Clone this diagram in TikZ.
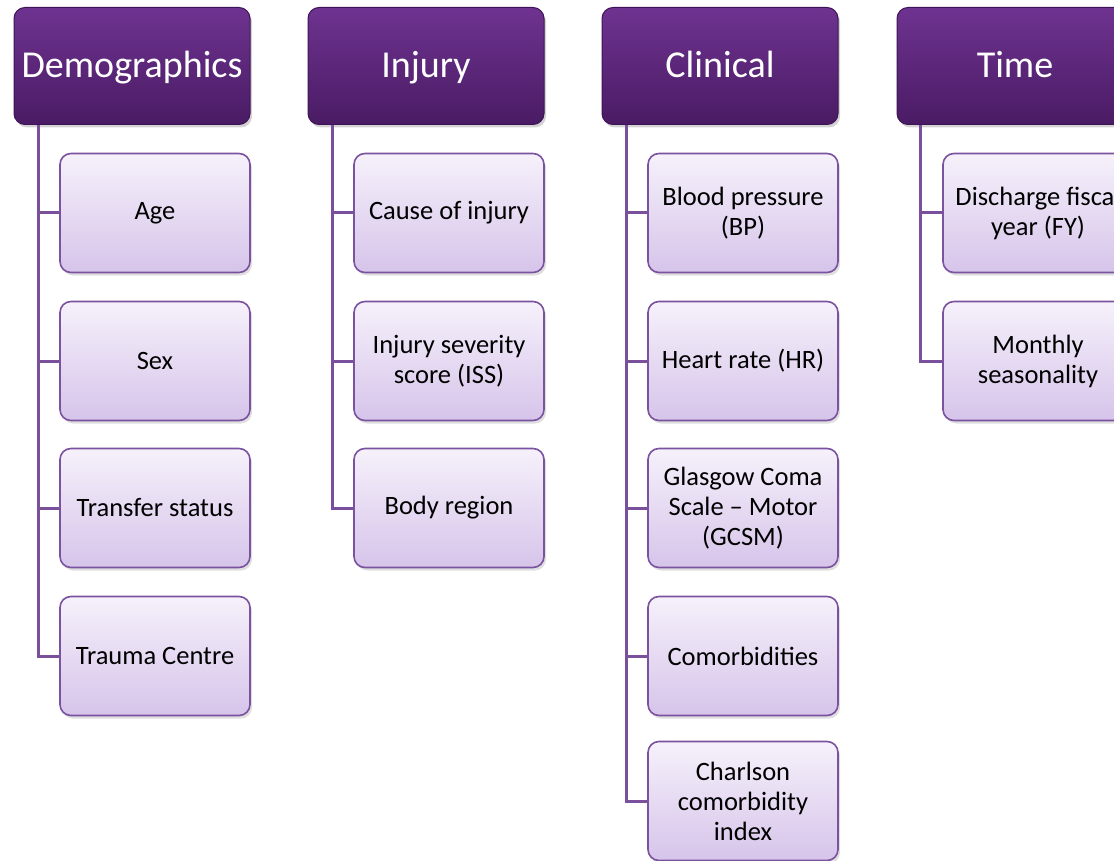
\documentclass[tikz,border=0pt]{standalone}
\usepackage{fontspec}
\setmainfont{Carlito}
\usetikzlibrary{shadows}
\definecolor{hdtop}{HTML}{6E3390}
\definecolor{hdbot}{HTML}{4A1B64}
\definecolor{hdline}{HTML}{3E1456}
\definecolor{chtop}{HTML}{F6F1FB}
\definecolor{chbot}{HTML}{D6C4EA}
\definecolor{chline}{HTML}{7A529F}
\definecolor{conncol}{HTML}{7A4F9C}
\tikzset{
  header/.style={rounded corners=11pt, draw=hdline, line width=1pt,
    top color=hdtop, bottom color=hdbot, minimum width=236pt, minimum height=117pt,
    text=white, font=\fontsize{38}{45}\selectfont, inner sep=0pt,
    text height=30pt, text depth=6pt,
    drop shadow={shadow xshift=2pt, shadow yshift=-3pt, opacity=0.35}},
  child/.style={rounded corners=11pt, draw=chline, line width=1.6pt,
    top color=chtop, bottom color=chbot, minimum width=190pt, minimum height=119pt,
    text=black, font=\fontsize{26.5}{30}\selectfont, align=center, inner sep=0pt,
    drop shadow={shadow xshift=2pt, shadow yshift=-3pt, opacity=0.25}},
  connline/.style={draw=conncol, line width=3pt}
}
\begin{document}
\begin{tikzpicture}[x=1pt,y=-1pt]
\useasboundingbox (0,0) rectangle (1114,861);
\clip (0,0) rectangle (1114,861);
\coordinate (dl) at (38,125);
\coordinate (il) at (332,125);
\coordinate (cl) at (626,125);
\coordinate (tl) at (920,125);
% headers
\node[header] (d0) at (132,66) {Demographics};
\node[header] (i0) at (426,66) {Injury};
\node[header] (c0) at (720,66) {Clinical};
\node[header] (t0) at (1015,66) {Time};
% children
\node[child] (d1) at (155,213) {Age};
\node[child] (d2) at (155,361) {Sex};
\node[child] (d3) at (155,508) {Transfer status};
\node[child] (d4) at (155,656) {Trauma Centre};
\node[child] (i1) at (449,213) {Cause of injury};
\node[child] (i2) at (449,361) {Injury severity\\score (ISS)};
\node[child] (i3) at (449,508) {Body region};
\node[child] (c1) at (743,213) {Blood pressure\\(BP)};
\node[child] (c2) at (743,361) {Heart rate (HR)};
\node[child] (c3) at (743,508) {Glasgow Coma\\Scale -- Motor\\(GCSM)};
\node[child] (c4) at (743,656) {Comorbidities};
\node[child] (c5) at (743,801) {Charlson\\comorbidity\\index};
\node[child] (t1) at (1038,213) {Discharge fiscal\\year (FY)};
\node[child] (t2) at (1038,361) {Monthly\\seasonality};
% connectors
\foreach \c in {d1,d2,d3,d4} \draw[connline] (d0.south -| dl) |- (\c.west);
\foreach \c in {i1,i2,i3} \draw[connline] (i0.south -| il) |- (\c.west);
\foreach \c in {c1,c2,c3,c4,c5} \draw[connline] (c0.south -| cl) |- (\c.west);
\foreach \c in {t1,t2} \draw[connline] (t0.south -| tl) |- (\c.west);
\end{tikzpicture}
\end{document}
